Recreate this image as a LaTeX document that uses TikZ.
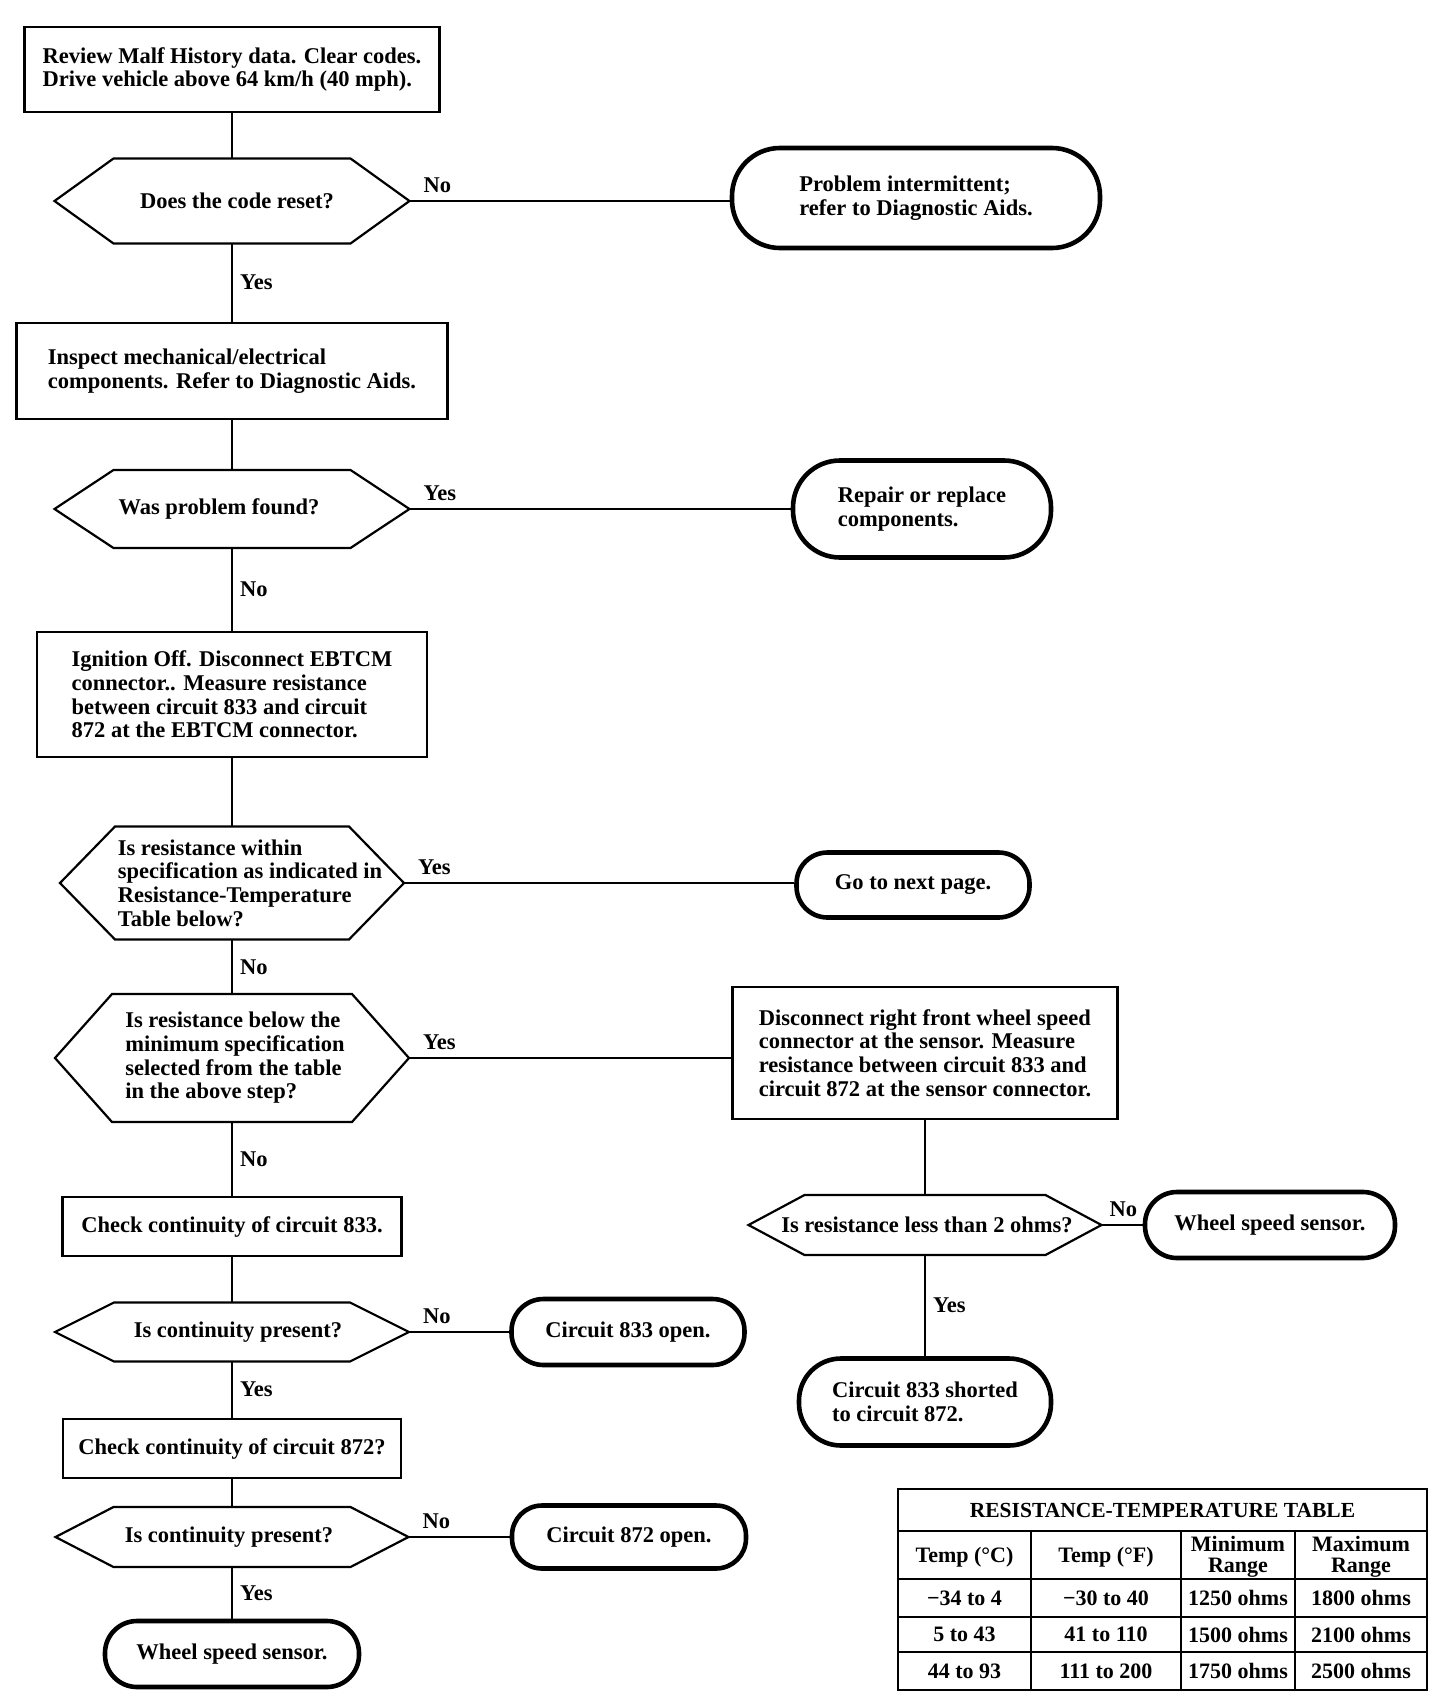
\documentclass[tikz,border=0pt]{standalone}
\usepackage{fontspec}
\setmainfont{Liberation Serif}
\usepackage{tikz}

\begin{document}
\begin{tikzpicture}[x=1pt,y=-1pt]

            \tikzset{
                chart/.style={
                    font=\fontsize{22.5}{23.7}\selectfont\bfseries,
                    inner sep=0pt,
                    align=left
                },
                stepbox/.style={chart, draw, line width=2.8pt},
                endbox/.style={chart, draw, line width=4.6pt, rounded corners=#1},
                hexframe/.style={inner sep=0pt, outer sep=0pt},
                hexline/.style={line width=2.2pt},
                flow/.style={line width=2.3pt},
                answer/.style={chart, inner sep=7pt},
                sideanswer/.style={chart, at start, anchor=base west, xshift=13pt, yshift=9pt},
                tableline/.style={line width=2.8pt},
                cell/.style={font=\fontsize{22}{21}\selectfont\bfseries, align=center, inner sep=0pt}
            }

            \newcommand{\Decision}[8]{%
                \node[hexframe, minimum width=#4, minimum height=#5] (#1) at (#2,#3) {};
                \draw[hexline] (#1.west) -- ([xshift=#6]#1.north west) -- ([xshift=-#6]#1.north east)
                    -- (#1.east) -- ([xshift=-#6]#1.south east) -- ([xshift=#6]#1.south west) -- cycle;
                \node[chart] (#1q) at ([xshift=#7]#1.center) {#8};
            }

            \newcommand{\TableRow}[6]{%
                \node[cell] (#1a) at (964.5,#2) {#3};
                \node[cell] (#1b) at (1106,#2) {#4};
                \node[cell] (#1c) at (1238,#2) {#5};
                \node[cell] (#1d) at (1361,#2) {#6};
            }

            \fill[white] (0,0) rectangle (1456,1700);
            \useasboundingbox (0,0) rectangle (1456,1700);

            \node[stepbox, minimum width=415pt, minimum height=85pt] (b1) at (232,69.5)
                {Review Malf History data. Clear codes.\\Drive vehicle above 64 km/h (40 mph).};
            \Decision{d1}{232}{201}{355pt}{85pt}{59pt}{5pt}{Does the code reset?}
            \node[endbox=48pt, minimum width=368pt, minimum height=100pt] (t1) at (916,198)
                {Problem intermittent;\\refer to Diagnostic Aids.};

            \node[stepbox, minimum width=431pt, minimum height=96pt] (b2) at (232,371)
                {Inspect mechanical/electrical\\components. Refer to Diagnostic Aids.};
            \Decision{d2}{232}{509}{355pt}{78pt}{59pt}{-13pt}{Was problem found?}
            \node[endbox=47pt, minimum width=258pt, minimum height=97pt] (t2) at (922,509)
                {Repair or replace\\components.};

            \node[stepbox, minimum width=390pt, minimum height=125pt] (b3) at (232,694.5)
                {Ignition Off. Disconnect EBTCM\\connector.. Measure resistance\\between circuit 833 and circuit\\872 at the EBTCM connector.};
            \Decision{d3}{232}{883}{344pt}{113pt}{55pt}{18pt}{Is resistance within\\specification as indicated in\\Resistance-Temperature\\Table below?}
            \node[endbox=31pt, minimum width=233pt, minimum height=65pt] (t3) at (913,885)
                {Go to next page.};

            \Decision{d4}{232}{1058}{354pt}{128pt}{57pt}{3pt}{Is resistance below the\\minimum specification\\selected from the table\\in the above step?}
            \node[stepbox, minimum width=385pt, minimum height=132pt] (b4) at (925,1053)
                {Disconnect right front wheel speed\\connector at the sensor. Measure\\resistance between circuit 833 and\\circuit 872 at the sensor connector.};
            \Decision{d5}{925}{1225}{353pt}{60pt}{56pt}{2pt}{Is resistance less than 2 ohms?}
            \node[endbox=32pt, minimum width=250pt, minimum height=66pt] (t4) at (1270,1225)
                {Wheel speed sensor.};
            \node[endbox=42pt, minimum width=252pt, minimum height=87pt] (t5) at (925,1402)
                {Circuit 833 shorted\\to circuit 872.};

            \node[stepbox, minimum width=339pt, minimum height=59pt] (b5) at (232,1226.5)
                {Check continuity of circuit 833.};
            \Decision{d6}{232}{1332}{354pt}{59pt}{59pt}{6pt}{Is continuity present?}
            \node[endbox=32pt, minimum width=233pt, minimum height=66pt] (t6) at (628,1332)
                {Circuit 833 open.};

            \node[stepbox, minimum width=338pt, minimum height=59pt] (b6) at (232,1448.5)
                {Check continuity of circuit 872?};
            \Decision{d7}{232}{1537}{353pt}{60pt}{58pt}{-3pt}{Is continuity present?}
            \node[endbox=30pt, minimum width=234pt, minimum height=63pt] (t7) at (629,1537)
                {Circuit 872 open.};
            \node[endbox=32pt, minimum width=254pt, minimum height=66pt] (t8) at (232,1654)
                {Wheel speed sensor.};

            \draw[flow] (b1) -- (d1);
            \draw[flow] (d1.east) -- node[sideanswer] {No} (d1.east -| t1.west);
            \draw[flow] (d1) -- node[answer, midway, right] {Yes} (b2);
            \draw[flow] (b2) -- (d2);
            \draw[flow] (d2.east) -- node[sideanswer] {Yes} (d2.east -| t2.west);
            \draw[flow] (d2) -- node[answer, midway, right] {No} (b3);
            \draw[flow] (b3) -- (d3);
            \draw[flow] (d3.east) -- node[sideanswer] {Yes} (d3.east -| t3.west);
            \draw[flow] (d3) -- node[answer, midway, right] {No} (d4);
            \draw[flow] (d4.east) -- node[sideanswer] {Yes} (d4.east -| b4.west);
            \draw[flow] (d4) -- node[answer, midway, right] {No} (b5);
            \draw[flow] (b4) -- (d5);
            \draw[flow] (d5) -- node[sideanswer, xshift=-6pt] {No} (t4);
            \draw[flow] (d5) -- node[answer, midway, right] {Yes} (t5);
            \draw[flow] (b5) -- (d6);
            \draw[flow] (d6) -- node[sideanswer] {No} (t6);
            \draw[flow] (d6) -- node[answer, midway, right] {Yes} (b6);
            \draw[flow] (b6) -- (d7);
            \draw[flow] (d7) -- node[sideanswer] {No} (t7);
            \draw[flow] (d7) -- node[answer, midway, right] {Yes} (t8);

            \draw[tableline] (898,1489) rectangle (1427,1690);
            \draw[tableline] (898,1531) -- (1427,1531);
            \draw[tableline] (898,1579) -- (1427,1579);
            \draw[tableline] (898,1617) -- (1427,1617);
            \draw[tableline] (898,1652) -- (1427,1652);
            \foreach \cx in {1031,1181,1295}
                \draw[tableline] (\cx,1531) -- (\cx,1690);

            \node[cell, font=\fontsize{21.5}{21}\selectfont\bfseries] (title) at (1162.5,1510)
                {RESISTANCE-TEMPERATURE TABLE};
            \TableRow{head}{1557}{Temp (°C)}{Temp (°F)}{Minimum\\Range}{Maximum\\Range}
            \TableRow{ra}{1598}{−34 to 4}{−30 to 40}{1250 ohms}{1800 ohms}
            \TableRow{rb}{1634.5}{5 to 43}{41 to 110}{1500 ohms}{2100 ohms}
            \TableRow{rc}{1671}{44 to 93}{111 to 200}{1750 ohms}{2500 ohms}

        \end{tikzpicture}
\end{document}
